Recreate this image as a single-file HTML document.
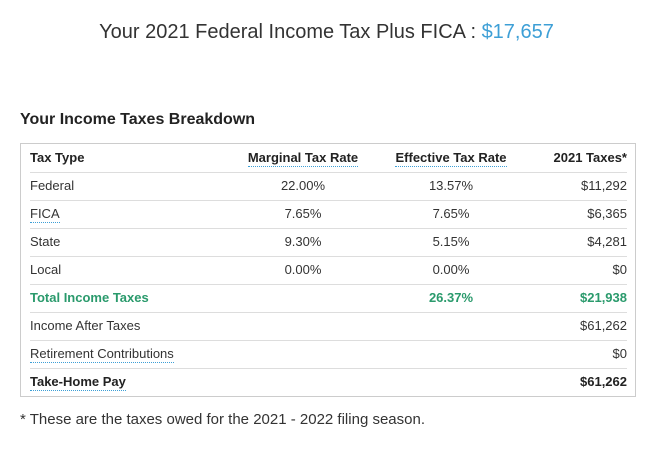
<!DOCTYPE html>
<html><head><meta charset="utf-8"><style>
body{margin:0;width:653px;height:450px;background:#fff;font-family:"Liberation Sans",sans-serif;color:#333;position:relative;overflow:hidden}
.title{position:absolute;top:21px;left:0;width:653px;text-align:center;font-size:20px;color:#333}
.title span{color:#3d9fd6}
.h2{position:absolute;top:111px;left:20px;font-size:16px;font-weight:bold;color:#222}
.box{position:absolute;left:20px;top:143px;width:616px;height:254px;border:1px solid #ccc;box-sizing:border-box}
.row{position:absolute;left:9px;width:597px;height:28px;font-size:13px;line-height:28px;border-bottom:1px solid #ddd}
.row:last-child{border-bottom:none}
.c{position:absolute;top:0}
.c1{left:0}
.c2{left:218px;width:110px;text-align:center}
.c3{left:366px;width:110px;text-align:center}
.c4{right:0;text-align:right}
.dot{border-bottom:1px dotted #3d9fd6;line-height:16px;display:inline-block}
.green{color:#2a9a6c;font-weight:bold}
.b{font-weight:bold;color:#222}
.foot{position:absolute;top:411px;left:20px;font-size:15px;color:#333}
</style></head><body>
<div class="title">Your 2021 Federal Income Tax Plus FICA : <span>$17,657</span></div>
<div class="h2">Your Income Taxes Breakdown</div>
<div class="box">
<div class="row b" style="top:0"><span class="c c1">Tax Type</span><span class="c c2" style="left:208px;width:130px"><span class="dot">Marginal Tax Rate</span></span><span class="c c3" style="left:356px;width:130px"><span class="dot">Effective Tax Rate</span></span><span class="c c4">2021 Taxes*</span></div>
<div class="row" style="top:28px"><span class="c c1">Federal</span><span class="c c2">22.00%</span><span class="c c3">13.57%</span><span class="c c4">$11,292</span></div>
<div class="row" style="top:56px"><span class="c c1"><span class="dot">FICA</span></span><span class="c c2">7.65%</span><span class="c c3">7.65%</span><span class="c c4">$6,365</span></div>
<div class="row" style="top:84px"><span class="c c1">State</span><span class="c c2">9.30%</span><span class="c c3">5.15%</span><span class="c c4">$4,281</span></div>
<div class="row" style="top:112px"><span class="c c1">Local</span><span class="c c2">0.00%</span><span class="c c3">0.00%</span><span class="c c4">$0</span></div>
<div class="row green" style="top:140px"><span class="c c1">Total Income Taxes</span><span class="c c3">26.37%</span><span class="c c4">$21,938</span></div>
<div class="row" style="top:168px"><span class="c c1">Income After Taxes</span><span class="c c4">$61,262</span></div>
<div class="row" style="top:196px"><span class="c c1"><span class="dot">Retirement Contributions</span></span><span class="c c4">$0</span></div>
<div class="row b" style="top:224px;border-bottom:none"><span class="c c1"><span class="dot" style="border-bottom-color:#3d9fd6">Take-Home Pay</span></span><span class="c c4">$61,262</span></div>
</div>
<div class="foot">* These are the taxes owed for the 2021 - 2022 filing season.</div>
</body></html>
